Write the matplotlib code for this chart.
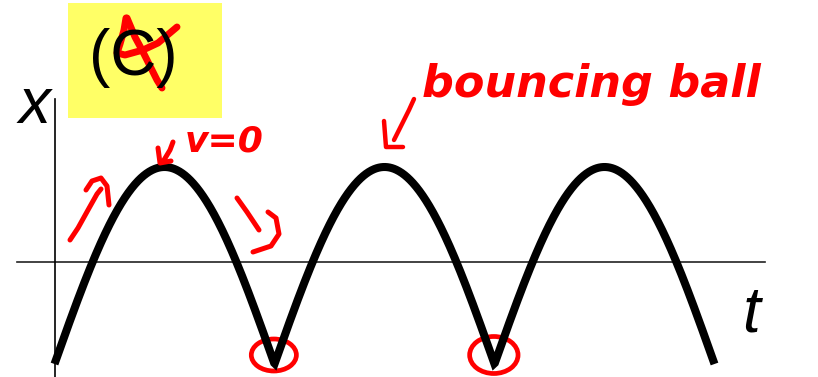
import numpy as np
import matplotlib
matplotlib.use("Agg")
import matplotlib.pyplot as plt
from matplotlib.patches import Rectangle, Ellipse

# curva: pelota que rebota, arcos entre rebotes
t_rebotes = [0, 1, 2, 3]          # instantes de rebote (periodos)
x_suelo = -1.02                   # altura en el rebote
x_cima = 0.95                     # altura maxima (v = 0)

# limites de los ejes dibujados
t_eje = [-0.17, 3.23]
x_eje = [-1.2, 1.63]

# tinta roja (coordenadas de pantalla, pixeles)
tachon = [
    [(126, 18), (124, 30), (120, 44), (117, 53), (125, 55), (143, 50), (158, 43), (177, 27)],
    [(127, 18), (135, 37), (142, 50), (147, 60), (157, 80), (162, 88)],
]
flecha_sube = [
    [(70, 240), (78, 228), (88, 210), (97, 194), (101, 189)],
    [(86, 190), (92, 181), (101, 178), (107, 186), (109, 205)],
]
flecha_baja = [
    [(237, 198), (247, 212), (259, 230)],
    [(268, 212), (276, 218), (279, 234), (271, 246), (253, 252)],
]
flecha_v0 = [
    [(173, 142), (170, 150), (164, 160)],
    [(158, 148), (160, 163), (171, 161)],
]
flecha_titulo = [
    [(414, 99), (409, 110), (402, 124), (394, 140)],
    [(384, 121), (386, 147), (403, 147)],
]

fig = plt.figure(figsize=(8.18, 3.77), dpi=100)
ax = fig.add_axes([0, 0, 1, 1])
ax.set_xlim(-54.5 / 220, (818 - 54.5) / 220)
ax.set_ylim((262 - 377) / 100, 262 / 100)
ax.axis("off")

# ejes
ax.plot(t_eje, [0, 0], color="#222222", lw=1.2)
ax.plot([0, 0], [x_eje[0], x_eje[1]], color="black", lw=1.2)

# curva
t = np.linspace(t_rebotes[0], t_rebotes[-1], 1200)
x = x_suelo + (x_cima - x_suelo) * np.abs(np.sin(np.pi * t))
ax.plot(t, x, color="black", lw=5.8, solid_joinstyle="miter", solid_capstyle="butt")

ax.text(-0.089, 1.56, "x", fontsize=46, style="italic", family="Liberation Sans",
        ha="center", va="center")
ax.text(3.166, -0.53, "t", fontsize=46, style="italic", family="Liberation Sans",
        ha="center", va="center")

# circulos en los rebotes
for tr, w, h in zip(t_rebotes[1:3], [0.205, 0.22], [0.32, 0.37]):
    ax.add_patch(Ellipse((tr - 0.003, x_suelo + 0.09), w, h, fill=False,
                         edgecolor="red", lw=3.4))

# capa de tinta en pixeles
tinta = fig.add_axes([0, 0, 1, 1])
tinta.set_xlim(0, 818)
tinta.set_ylim(377, 0)
tinta.axis("off")

tinta.add_patch(Rectangle((68, 3), 154, 115, facecolor="#FFFF66", edgecolor="none"))
tinta.text(133, 58, "(C)", fontsize=46, family="Liberation Sans", ha="center", va="center")

for trazos, grosor in [(tachon, 5.0), (flecha_sube, 3.6), (flecha_baja, 3.6),
                       (flecha_v0, 3.6), (flecha_titulo, 3.2)]:
    for tr in trazos:
        xs, ys = zip(*tr)
        tinta.plot(xs, ys, color="red", lw=grosor, solid_capstyle="round",
                   solid_joinstyle="round")

tinta.text(422, 97, "bouncing ball", fontsize=32, color="red", style="italic",
           weight="bold", family="DejaVu Sans", ha="left", va="baseline")
tinta.text(185, 151, "v=0", fontsize=26, color="red", style="italic",
           weight="bold", family="DejaVu Sans", ha="left", va="baseline")

plt.savefig("out.png", dpi=100)
